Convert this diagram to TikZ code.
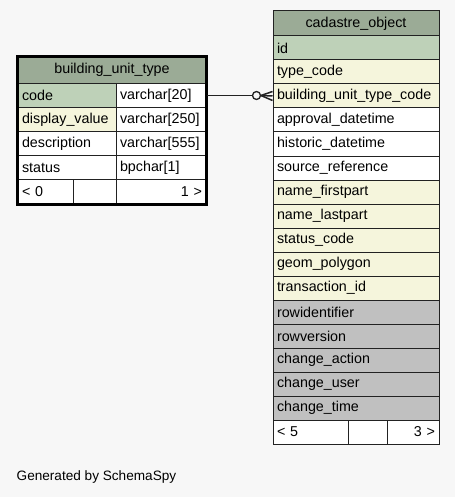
\documentclass[tikz,border=0pt]{standalone}
\usepackage{fontspec}
\setmainfont{Liberation Sans}
\definecolor{bgc}{HTML}{F7F7F7}
\definecolor{hdrc}{HTML}{9BAB96}
\definecolor{pkc}{HTML}{BED1B8}
\definecolor{bec}{HTML}{F5F5DC}
\definecolor{grc}{HTML}{C0C0C0}
\definecolor{whc}{HTML}{FFFFFF}
\definecolor{linec}{HTML}{222222}
\begin{document}
\begin{tikzpicture}[x=1pt,y=-1pt,
  txt/.style={font=\fontsize{14.3}{16}\selectfont, text=black},
  cell/.style={txt, draw=linec, line width=1pt, minimum height=24pt, inner ysep=0pt, inner xsep=4pt, anchor=north west, align=left},
  hdr/.style={cell, fill=hdrc, align=center, minimum height=25pt},
  conn/.style={draw=linec, line width=1.5pt}
]
\fill[bgc] (0,0) rectangle (455,497);
\useasboundingbox (0,0) rectangle (455,497);

% ---------- left table ----------
\node[hdr, minimum width=188pt, text width=180pt, minimum height=26.5pt] (lh) at (17.5,56.5) {building\_unit\_type};
\node[cell, fill=pkc, text width=90pt] (l1a) at (17.5,83) {code};
\node[cell, fill=whc, text width=82pt] (l1b) at (115.5,83) {varchar[20]};
\node[cell, fill=bec, text width=90pt] (l2a) at (17.5,107) {display\_value};
\node[cell, fill=whc, text width=82pt] (l2b) at (115.5,107) {varchar[250]};
\node[cell, fill=whc, text width=90pt] (l3a) at (17.5,131) {description};
\node[cell, fill=whc, text width=82pt] (l3b) at (115.5,131) {varchar[555]};
\node[cell, fill=whc, text width=90pt] (l4a) at (17.5,155) {status};
\node[cell, fill=whc, text width=82pt] (l4b) at (115.5,155) {bpchar[1]};
\node[cell, fill=whc, text width=47pt, minimum height=24.5pt] (lf1) at (17.5,179) {< 0};
\node[cell, fill=whc, text width=35pt, minimum height=24.5pt] (lf2) at (72.5,179) {};
\node[cell, fill=whc, text width=82pt, align=right, minimum height=24.5pt] (lf3) at (115.5,179) {1 >};
\draw[black, line width=3pt] (lh.north west) rectangle (lf3.south east);

% ---------- right table ----------
\node[hdr, minimum width=166pt, text width=158pt] (rh) at (272.5,10.5) {cadastre\_object};
\foreach \t/\c [count=\i] in {id/pkc, type\_code/bec, building\_unit\_type\_code/bec,
  approval\_datetime/whc, historic\_datetime/whc, source\_reference/whc,
  name\_firstpart/bec, name\_lastpart/bec, status\_code/bec, geom\_polygon/bec,
  transaction\_id/bec, rowidentifier/grc, rowversion/grc, change\_action/grc,
  change\_user/grc, change\_time/grc}{
  \node[cell, fill=\c, text width=158pt] (r\i) at (272.5,{35.5+(\i-1)*24}) {\t};
}
\node[cell, fill=whc, text width=67pt] (rf1) at (272.5,419.5) {< 5};
\node[cell, fill=whc, text width=31pt] (rf2) at (347.5,419.5) {};
\node[cell, fill=whc, text width=44pt, align=right] (rf3) at (386.5,419.5) {3 >};

% ---------- connector ----------
\node[circle, draw=linec, line width=1.3pt, fill=bgc, minimum size=8pt, inner sep=0pt] (ci) at (256.5,95.5) {};
\coordinate (cf) at (261,95.5);
\draw[conn] (l1b.east |- ci) -- (ci.west);
\draw[conn] (ci.east) -- (r3.west);
\draw[conn] (cf) -- ([yshift=4.5pt]r3.west);
\draw[conn] (cf) -- ([yshift=-4.5pt]r3.west);

% ---------- footer text ----------
\node[font=\fontsize{13.6}{16}\selectfont, anchor=west, inner sep=0pt] (gen) at (16.5,477) {Generated by SchemaSpy};
\end{tikzpicture}
\end{document}
